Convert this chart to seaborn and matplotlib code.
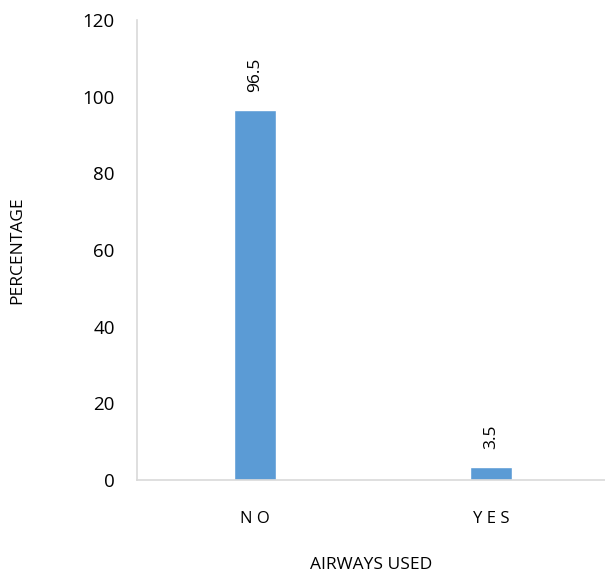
import matplotlib
matplotlib.use("Agg")
import matplotlib.pyplot as plt
import seaborn as sns
import pandas as pd

# data
categories = ["NO", "YES"]
tick_labels = ["N O", "Y E S"]
percentages = [96.5, 3.5]

df = pd.DataFrame({"Airways": categories, "Percentage": percentages})

sns.set_style("white")
plt.rcParams['font.family'] = ['Open Sans', 'DejaVu Sans']

fig = plt.figure(figsize=(6.05, 5.81), dpi=100)
ax = fig.add_axes([0.2264, 0.1738, 0.78, 0.7918])

sns.barplot(data=df, x="Airways", y="Percentage", color="#5B9BD5",
            width=0.18, saturation=1, ax=ax)

for c in ax.containers:
    ax.bar_label(c, labels=[f"{v:g}" for v in percentages], rotation=90,
                 padding=13, fontsize=12.5, color="black")

ax.set_ylim(0, 120)
ax.set_yticks(range(0, 121, 20))
ax.set_xlim(-0.5, 1.5)
ax.set_xticks([0, 1])
ax.set_xticklabels(tick_labels)
ax.set_xticks([-0.5, 0.5, 1.5], minor=True)
ax.tick_params(axis="x", which="major", length=0, pad=22, labelsize=12, labelcolor="black")
ax.tick_params(axis="x", which="minor", length=5, color="#D9D9D9", width=1.2)
ax.tick_params(axis="y", length=6, color="#D9D9D9", width=1.2, labelsize=13.5, pad=10,
               labelcolor="black")

for s in ["top", "right"]:
    ax.spines[s].set_visible(False)
for s in ["left", "bottom"]:
    ax.spines[s].set_color("#D9D9D9")
    ax.spines[s].set_linewidth(1.2)

ax.set_xlabel("AIRWAYS USED", fontsize=12.5, color="black")
ax.set_ylabel("PERCENTAGE", fontsize=12.5, color="black")
ax.xaxis.set_label_coords(0.497, -0.167)
ax.yaxis.set_label_coords(-0.237, 0.5)

fig.savefig("out.png", dpi=100)
